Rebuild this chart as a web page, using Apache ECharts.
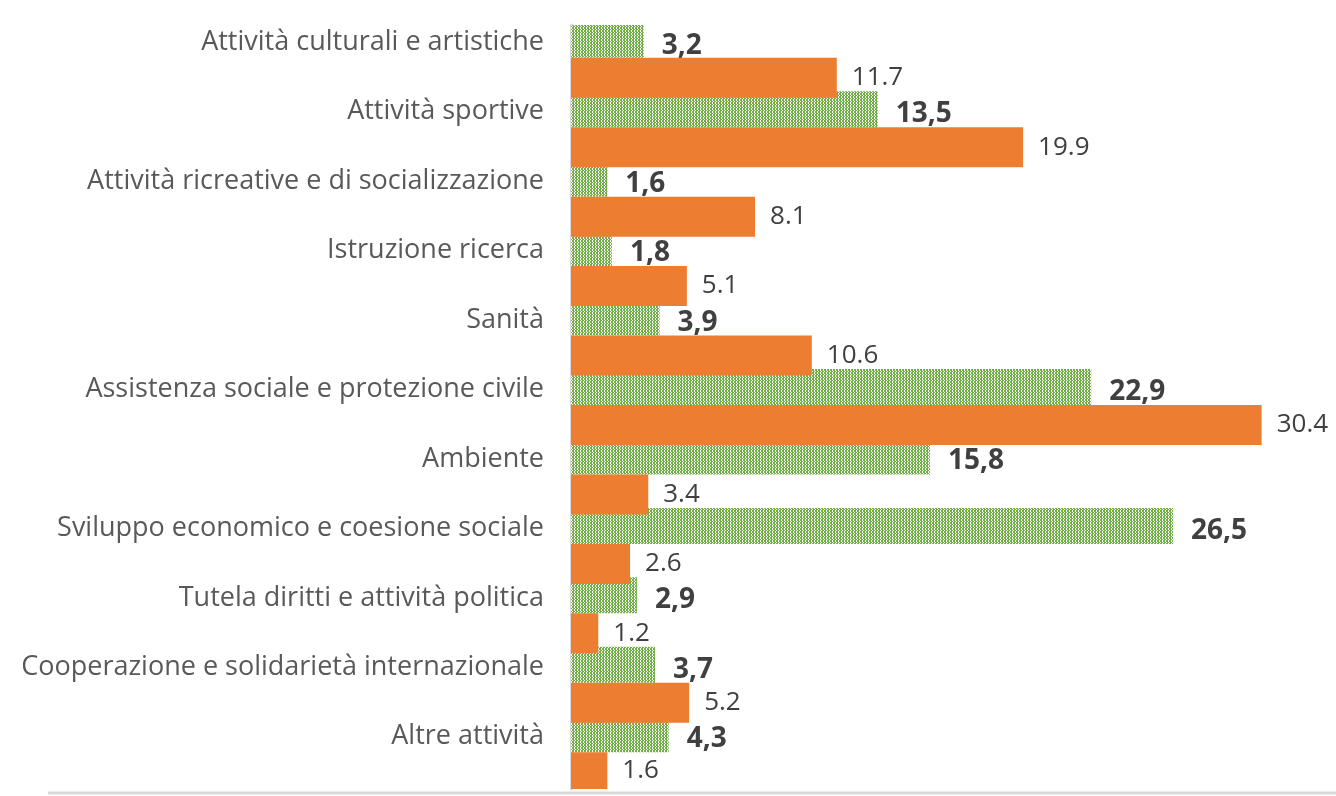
<!DOCTYPE html>
<html>
<head>
<meta charset="utf-8">
<script src="https://cdn.jsdelivr.net/npm/echarts@6/dist/echarts.min.js"></script>
<style>
    html, body { margin: 0; padding: 0; background: #fff; }
    #chart { width: 1336px; height: 796px; }
</style>
</head>
<body>
<div id="chart"></div>
<script>
    // categorie, dall'alto verso il basso
    var categories = [
        'Attività culturali e artistiche',
        'Attività sportive',
        'Attività ricreative e di socializzazione',
        'Istruzione ricerca',
        'Sanità',
        'Assistenza sociale e protezione civile',
        'Ambiente',
        'Sviluppo economico e coesione sociale',
        'Tutela diritti e attività politica',
        'Cooperazione e solidarietà internazionale',
        'Altre attività'
    ];
    // serie verde (puntinata)
    var greenValues = [3.2, 13.5, 1.6, 1.8, 3.9, 22.9, 15.8, 26.5, 2.9, 3.7, 4.3];
    // serie arancione
    var orangeValues = [11.7, 19.9, 8.1, 5.1, 10.6, 30.4, 3.4, 2.6, 1.2, 5.2, 1.6];

    // trama a puntini per la serie verde
    var pat = document.createElement('canvas');
    pat.width = 3; pat.height = 3;
    var ctx = pat.getContext('2d');
    ctx.fillStyle = '#70AD47';
    ctx.fillRect(0, 0, 3, 3);
    ctx.fillStyle = '#ffffff';
    ctx.fillRect(1, 0, 1, 2);
    ctx.fillRect(2, 2, 1, 1);

    var myChart = echarts.init(document.getElementById('chart'));
    var option = {
        animation: false,
        grid: { left: 571, right: 38, top: 25, bottom: 7 },
        xAxis: {
            type: 'value',
            min: 0,
            max: 32,
            show: false
        },
        yAxis: {
            type: 'category',
            inverse: true,
            data: categories,
            axisTick: { show: false },
            axisLine: { show: true, lineStyle: { color: '#D9D9D9', width: 3 } },
            axisLabel: {
                color: '#595959',
                fontFamily: 'Open Sans',
                fontSize: 27,
                margin: 27,
                verticalAlign: 'bottom',
                lineHeight: 35
            }
        },
        series: [
            {
                type: 'bar',
                data: greenValues,
                barWidth: 36,
                barGap: '0%',
                z: 2,
                itemStyle: { color: { image: pat, repeat: 'repeat' } },
                label: {
                    show: true,
                    position: 'right',
                    distance: 18,
                    offset: [0, 5],
                    color: '#404040',
                    fontFamily: 'Open Sans',
                    fontWeight: 'bold',
                    fontSize: 28,
                    formatter: function (p) { return p.value.toFixed(1).replace('.', ','); }
                }
            },
            {
                type: 'bar',
                data: orangeValues,
                barWidth: 40,
                z: 3,
                itemStyle: { color: '#ED7D31' },
                label: {
                    show: true,
                    position: 'right',
                    distance: 15,
                    color: '#404040',
                    fontFamily: 'Open Sans',
                    fontSize: 26,
                    formatter: function (p) { return p.value.toFixed(1); }
                }
            }
        ],
        graphic: [
            {
                type: 'line',
                shape: { x1: 48, y1: 793, x2: 1336, y2: 793 },
                style: { stroke: '#D9D9D9', lineWidth: 3 }
            }
        ]
    };
    myChart.setOption(option);
</script>
</body>
</html>
